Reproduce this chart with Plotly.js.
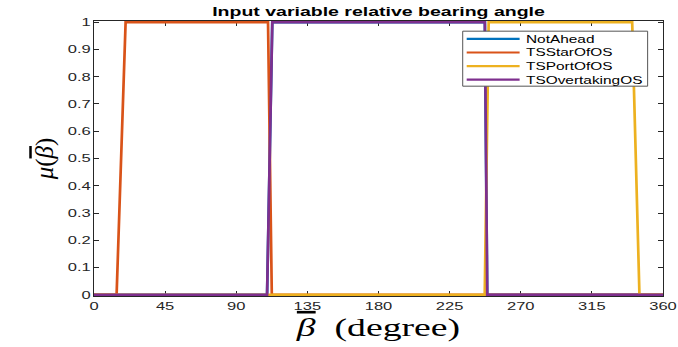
<!DOCTYPE html>
<html>
<head>
<meta charset="utf-8">
<script src="https://cdn.plot.ly/plotly-3.0.1.min.js"></script>
<style>
  html, body { margin: 0; padding: 0; background: #fff; }
  #chart { width: 678px; height: 347px; }
</style>
</head>
<body>
<div id="chart"></div>
<script>
// Membership functions of the relative bearing angle (degrees -> membership)
const seriesNames = ['NotAhead', 'TSStarOfOS', 'TSPortOfOS', 'TSOvertakingOS'];
const seriesColors = ['#0072BD', '#D95319', '#EDB120', '#7E2F8E'];

const notAheadX = [0, 109.5, 112.8, 247.3, 248.8, 360];
const notAheadY = [0, 0, 1, 1, 0, 0];

const starX = [0, 14.3, 20.0, 110.1, 112.5, 360];
const starY = [0, 0, 1, 1, 0, 0];

const portX = [0, 247.2, 249.7, 340.5, 345.1, 360];
const portY = [0, 0, 1, 1, 0, 0];

const overtakingX = [0, 109.5, 112.8, 247.3, 248.8, 360];
const overtakingY = [0, 0, 1, 1, 0, 0];

const bearingTicks = [0, 45, 90, 135, 180, 225, 270, 315, 360];
const muTicks = [0, 0.1, 0.2, 0.3, 0.4, 0.5, 0.6, 0.7, 0.8, 0.9, 1];
const muTickText = ['0', '0.1', '0.2', '0.3', '0.4', '0.5', '0.6', '0.7', '0.8', '0.9', '1'];

const xs = [notAheadX, starX, portX, overtakingX];
const ys = [notAheadY, starY, portY, overtakingY];

const traces = seriesNames.map((name, i) => ({
  type: 'scatter',
  mode: 'lines',
  name: name,
  x: xs[i],
  y: ys[i],
  line: { color: seriesColors[i], width: 2.7 },
  hoverinfo: 'skip',
  showlegend: false
}));

const axisColor = '#262626';
const tickFont = { family: 'Liberation Sans, Arial, sans-serif', size: 11, color: axisColor };
// beta with a bar over it
const betaBar = '<i><span style="text-decoration:overline">β</span></i>';

// Boxed legend in the upper right, drawn with shapes and annotations
const legendBox = { x0: 0.648, x1: 0.973, y0: 0.763, y1: 0.963 };
const rowTop = 0.935, rowStep = 0.0495;
const legendShapes = [{
  type: 'rect', xref: 'paper', yref: 'paper',
  x0: legendBox.x0, x1: legendBox.x1, y0: legendBox.y0, y1: legendBox.y1,
  fillcolor: '#ffffff', line: { color: '#555555', width: 1 }, layer: 'above'
}];
const legendNotes = [];
seriesNames.forEach((name, i) => {
  const yr = rowTop - i * rowStep;
  legendShapes.push({
    type: 'line', xref: 'paper', yref: 'paper',
    x0: 0.655, x1: 0.748, y0: yr, y1: yr,
    line: { color: seriesColors[i], width: 2.2 }, layer: 'above'
  });
  legendNotes.push({
    xref: 'paper', yref: 'paper', x: 0.755, y: yr,
    xanchor: 'left', yanchor: 'middle', align: 'left',
    text: name, showarrow: false,
    font: { family: 'Liberation Sans, Arial, sans-serif', size: 11, color: '#000' }
  });
});

const layout = {
  width: 678,
  height: 347,
  paper_bgcolor: '#ffffff',
  plot_bgcolor: '#ffffff',
  margin: { l: 94, r: 14.5, t: 20.6, b: 51.2, pad: 0 },
  showlegend: false,
  title: {
    text: '<b>Input variable relative bearing angle</b>',
    font: { family: 'Liberation Sans, Arial, sans-serif', size: 13, color: '#000' },
    x: 0.5, xref: 'paper', xanchor: 'center',
    y: 0.968, yref: 'container', yanchor: 'middle'
  },
  xaxis: {
    range: [0, 360],
    tickmode: 'array', tickvals: bearingTicks, ticktext: bearingTicks.map(String),
    ticks: 'inside', ticklen: 5, tickwidth: 1, tickcolor: axisColor,
    showline: true, linecolor: axisColor, linewidth: 1, mirror: 'ticks',
    showgrid: false, zeroline: false, layer: 'below traces',
    tickfont: tickFont,
    title: {
      text: betaBar + '  (degree)',
      font: { family: 'Liberation Serif, Times New Roman, serif', size: 26, color: '#000' },
      standoff: 6
    }
  },
  yaxis: {
    range: [-0.004, 1.004],
    tickmode: 'array', tickvals: muTicks, ticktext: muTickText,
    ticks: 'inside', ticklen: 5, tickwidth: 1, tickcolor: axisColor,
    showline: true, linecolor: axisColor, linewidth: 1, mirror: 'ticks',
    showgrid: false, zeroline: false, layer: 'below traces',
    tickfont: tickFont,
    title: {
      text: '<i>μ</i>(' + betaBar + ')',
      font: { family: 'Liberation Serif, Times New Roman, serif', size: 25, color: '#000' },
      standoff: 14
    }
  },
  shapes: legendShapes,
  annotations: legendNotes
};

// Widen the horizontal text runs to the broad lettering of the figure
function widenText(gd) {
  const rules = [
    ['text.gtitle', 1.5],
    ['.xtick text', 1.5],
    ['.ytick text', 1.5],
    ['text.xtitle', 1.45],
    ['text.annotation-text', 1.4]
  ];
  rules.forEach(([sel, f]) => {
    gd.querySelectorAll(sel).forEach(el => {
      const len = el.getComputedTextLength();
      if (len > 0) {
        el.setAttribute('textLength', (len * f).toFixed(2));
        el.setAttribute('lengthAdjust', 'spacingAndGlyphs');
      }
    });
  });
}

Plotly.newPlot('chart', traces, layout, { staticPlot: true, displayModeBar: false })
  .then(gd => widenText(gd));
</script>
</body>
</html>
